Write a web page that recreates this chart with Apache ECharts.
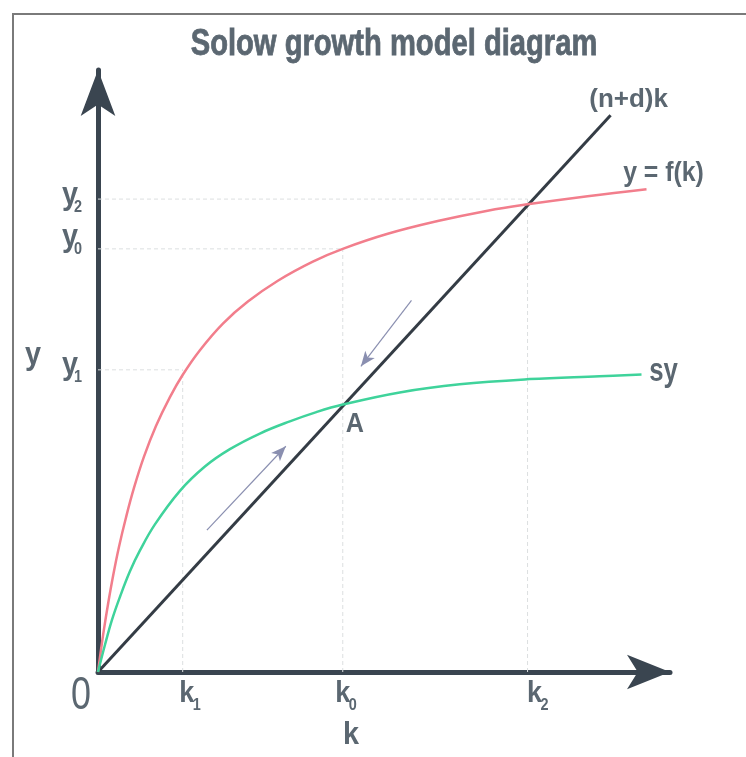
<!DOCTYPE html>
<html><head><meta charset="utf-8">
<script src="https://cdn.jsdelivr.net/npm/echarts@6/dist/echarts.min.js"></script>
<style>html,body{margin:0;padding:0;background:#fff}#c{width:746px;height:757px}</style>
</head><body><div id="c"></div>
<script>
// ---- data (axis units: k 0..104, y 0..104) ----
const kNames = ['k', 'k', 'k'];
const kSubs = ['1', '0', '2'];
const kValues = [15.4, 44.5, 78.1];
const yNames = ['y', 'y', 'y'];
const ySubs = ['2', '0', '1'];
const yValues = [81.7, 73.1, 52.2];
const yAtK = [78.1, 44.5, 15.4];          // k where each y-guide ends
const fK = [[0,0],[0.54,3.8],[1.09,7.4],[1.82,11.7],[2.72,16.5],[3.81,21.6],[5.09,26.7],[6.54,31.8],[8.36,37.2],[10.54,42.5],[13.08,47.5],[15.44,51.4],[18.53,55.6],[22.71,60.2],[27.25,64.0],[32.7,67.6],[39.06,70.9],[44.5,73.1],[52.68,75.7],[61.76,77.9],[70.84,79.7],[78.11,80.8],[89.01,82.2],[99.73,83.4]];
const sY = [[0,0],[1.27,4.7],[2.54,9.0],[4.0,13.0],[5.81,17.4],[7.63,21.0],[10.35,25.5],[14.9,31.3],[19.44,35.5],[23.98,38.5],[29.43,41.2],[34.88,43.3],[39.7,44.9],[44.5,46.2],[54.86,48.3],[65.76,49.7],[78.47,50.6],[91.19,51.1],[98.82,51.4]];
const ndK = [[0,0],[93.2,96.2]];
const arrowUp = [[19.8,24.5],[34.15,39.0]];
const arrowDown = [[57.0,64.2],[47.8,52.8]];
const pointA = [44.5, 46.1];
const curveNames = ['(n+d)k', 'y = f(k)', 'sy'];
const titleText = 'Solow growth model diagram';

const TXT = '#5b6771';
const FONT = '"Liberation Sans", Arial, sans-serif';

const chart = echarts.init(document.getElementById('c'));

const guideSeries = [];
for (let i = 0; i < yValues.length; i++) {
  guideSeries.push({type:'line', data:[[0, yValues[i]], [yAtK[i], yValues[i]]], symbol:'none', z:1,
    lineStyle:{color:'#dcdfe0', width:1, type:[4,3]}, silent:true});
}
const kTops = [yValues[2], yValues[1], yValues[0]];
for (let i = 0; i < kValues.length; i++) {
  guideSeries.push({type:'line', data:[[kValues[i], 0], [kValues[i], kTops[i]]], symbol:'none', z:1,
    lineStyle:{color:'#dcdfe0', width:1, type:[4,3]}, silent:true});
}

chart.setOption({
  animation:false,
  backgroundColor:'#ffffff',
  grid:{left:98, right:76, top:70, bottom:85},
  xAxis:{type:'value', min:0, max:104,
    axisLine:{onZero:false, symbol:['none','arrow'], symbolSize:[26,43], lineStyle:{color:'#3a4550', width:5}},
    axisTick:{show:false}, axisLabel:{show:false}, splitLine:{show:false}},
  yAxis:{type:'value', min:0, max:104,
    axisLine:{onZero:false, symbol:['none','arrow'], symbolSize:[26,46], lineStyle:{color:'#3a4550', width:5}},
    axisTick:{show:false}, axisLabel:{show:false}, splitLine:{show:false}},
  series: guideSeries.concat([
    {name:'(n+d)k', type:'line', data:ndK, symbol:'none', z:3, lineStyle:{color:'#343c45', width:3}},
    {name:'y = f(k)', type:'line', data:fK, symbol:'none', smooth:0.4, z:4, lineStyle:{color:'#f27e8c', width:2.5}},
    {name:'sy', type:'line', data:sY, symbol:'none', smooth:0.4, z:4, lineStyle:{color:'#3fd39b', width:2.5}},
    {type:'line', data:[], z:5, markLine:{silent:true, symbol:['none','arrow'], symbolSize:[9,15],
      label:{show:false}, lineStyle:{color:'#8a8fb0', width:1.2, type:'solid'},
      data:[[{coord:arrowUp[0]},{coord:arrowUp[1]}],[{coord:arrowDown[0]},{coord:arrowDown[1]}]]}}
  ])
});

const px = p => chart.convertToPixel({gridIndex:0}, p);
function T(text, x, y, size, o) {
  o = o || {};
  const st = {text:text, fontSize:size, fontWeight:o.w || 'bold', fontFamily:FONT, fill:TXT,
      align:o.align || 'center', verticalAlign:'middle'};
  if (o.stroke) { st.stroke = TXT; st.lineWidth = o.stroke; }
  return {type:'text', x:x, y:y, scaleX:o.sx || 1, z:100, style:st};
}
const g = [];
g.push({type:'rect', shape:{x:13, y:14, width:800, height:800}, style:{fill:'none', stroke:'#7a7a7a', lineWidth:2}, z:0});
g.push(T(titleText, 394, 45, 36, {sx:0.81, stroke:0.8}));
// curve labels
const endN = px(ndK[1]);
g.push(T(curveNames[0], endN[0] + 18, endN[1] - 15, 26, {}));
const endF = px(fK[fK.length - 1]);
g.push(T(curveNames[1], endF[0] + 17, endF[1] - 16, 27, {sx:0.92}));
const endS = px(sY[sY.length - 1]);
g.push(T(curveNames[2], endS[0] + 22, endS[1] - 3, 33, {sx:0.78}));
const pA = px(pointA);
g.push(T('A', pA[0] + 12, pA[1] + 19, 28, {sx:0.9}));
// y labels
const yDy = [-4, -12, -5];
for (let i = 0; i < yValues.length; i++) {
  const p = px([0, yValues[i]]);
  g.push(T(yNames[i], 70, p[1] + yDy[i], 32, {sx:0.9}));
  g.push(T(ySubs[i], 74, p[1] + yDy[i] + 12, 17, {align:'left', sx:0.85}));
}
g.push(T('y', 33, 355, 32, {sx:0.9}));
// k labels
const kDx = [4, 0, 7];
for (let i = 0; i < kValues.length; i++) {
  const p = px([kValues[i], 0]);
  g.push(T(kNames[i], p[0] + kDx[i], 694, 30, {sx:0.9}));
  g.push(T(kSubs[i], p[0] + kDx[i] + 6, 705, 17, {align:'left', sx:0.85}));
}
g.push(T('k', 351, 735, 32, {sx:0.9}));
const o = px([0, 0]);
g.push(T('0', o[0] - 17, 696, 46, {w:'normal', sx:0.78}));
chart.setOption({graphic:g});
</script></body></html>
